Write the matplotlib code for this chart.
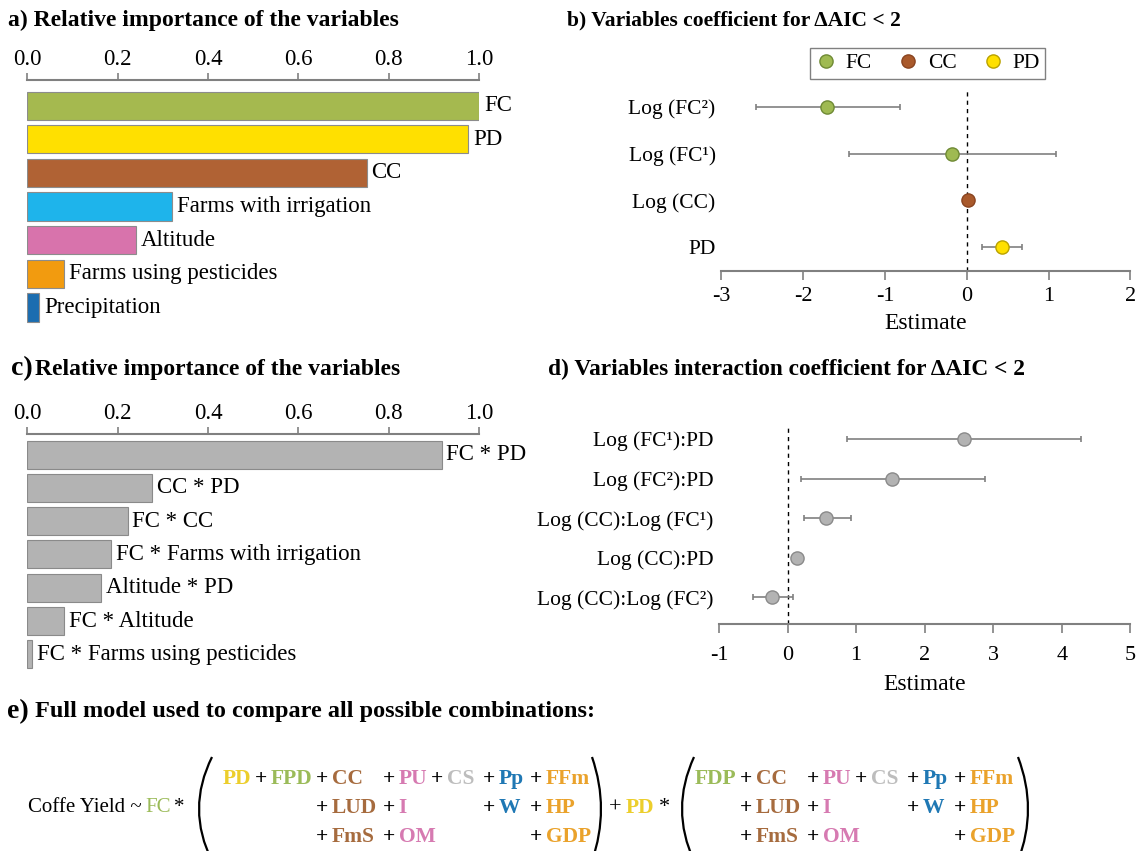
import matplotlib
matplotlib.use("Agg")
import matplotlib.pyplot as plt
from matplotlib.lines import Line2D
from matplotlib.path import Path
from matplotlib.patches import PathPatch
import numpy as np

# a) relative importance of single variables
vars_a = ["FC", "PD", "CC", "Farms with irrigation", "Altitude",
          "Farms using pesticides", "Precipitation"]
imp_a = [1.0, 0.976, 0.751, 0.321, 0.241, 0.081, 0.026]
colors_a = ["#a5b94f", "#ffe000", "#b06234", "#1eb4eb", "#d873ac",
            "#f29b0f", "#1b6db0"]

# b) coefficients (estimate, lower, upper)
terms_b = ["Log (FC²)", "Log (FC¹)", "Log (CC)", "PD"]
est_b = [-1.71, -0.18, 0.02, 0.43]
lo_b = [-2.58, -1.44, 0.02, 0.19]
hi_b = [-0.81, 1.09, 0.02, 0.67]
group_b = ["FC", "FC", "CC", "PD"]

# c) relative importance of interactions
vars_c = ["FC * PD", "CC * PD", "FC * CC", "FC * Farms with irrigation",
          "Altitude * PD", "FC * Altitude", "FC * Farms using pesticides"]
imp_c = [0.917, 0.277, 0.222, 0.185, 0.164, 0.081, 0.010]

# d) interaction coefficients
terms_d = ["Log (FC¹):PD", "Log (FC²):PD", "Log (CC):Log (FC¹)",
           "Log (CC):PD", "Log (CC):Log (FC²)"]
est_d = [2.57, 1.52, 0.56, 0.14, -0.22]
lo_d = [0.86, 0.20, 0.24, 0.14, -0.51]
hi_d = [4.28, 2.88, 0.92, 0.14, 0.08]

# e) full model terms, three rows x five columns inside each bracket
model_rows = [["CC", "PU", "CS", "Pp", "FFm"],
              ["LUD", "I", None, "W", "HP"],
              ["FmS", "OM", None, None, "GDP"]]
prefix_1 = ["PD", "FPD"]
prefix_2 = ["FDP"]

marker_face = {"FC": "#9fba52", "CC": "#a9592b", "PD": "#ffe000"}
marker_edge = {"FC": "#6f8a35", "CC": "#8a4420", "PD": "#b9a200"}
term_colour = {"PD": "#ecce2c", "FPD": "#9bbb59", "FDP": "#9bbb59", "FC": "#9bbb59",
               "CC": "#a66b3e", "LUD": "#a66b3e", "FmS": "#a66b3e",
               "PU": "#d67ab1", "I": "#d67ab1", "OM": "#d67ab1",
               "CS": "#bdbdbd", "Pp": "#1f78b4", "W": "#1f78b4",
               "FFm": "#eaa22b", "HP": "#eaa22b", "GDP": "#eaa22b"}

plt.rcParams["font.family"] = ["Liberation Serif", "DejaVu Serif"]
plt.rcParams["font.size"] = 15
plt.rcParams["axes.unicode_minus"] = False

W, H = 1142, 851
GREY = "#808080"
fig = plt.figure(figsize=(W / 100, H / 100), dpi=100)


def box(l, t, r, b):
    return [l / W, 1 - b / H, (r - l) / W, (b - t) / H]


def ftext(x, y, s, **kw):
    kw.setdefault("va", "center")
    return fig.text(x / W, 1 - y / H, s, **kw)


def after(prev, s, gap=4, **kw):
    # place text just right of a previous text artist
    return plt.annotate(s, xy=(1, 0.5), xycoords=prev, xytext=(gap, 0),
                        textcoords="offset points", va="center", ha="left",
                        annotation_clip=False, **kw)


def before(prev, s, gap=4, **kw):
    return plt.annotate(s, xy=(0, 0.5), xycoords=prev, xytext=(-gap, 0),
                        textcoords="offset points", va="center", ha="right",
                        annotation_clip=False, **kw)


def importance_panel(rect, names, values, colors, edge, ylim):
    ax = fig.add_axes(rect)
    ypos = np.arange(len(values))
    ax.barh(ypos, values, height=0.84, color=colors, edgecolor=edge, linewidth=0.8)
    for y, v, n in zip(ypos, values, names):
        ax.annotate(n, (v, y), xytext=(3.5, 0), textcoords="offset points",
                    va="center", ha="left", fontsize=16.5)
    ax.set_xlim(0, 1)
    ax.set_ylim(*ylim)
    ax.xaxis.tick_top()
    ax.set_xticks(np.arange(0, 1.01, 0.2))
    ax.set_xticklabels(["%.1f" % t for t in np.arange(0, 1.01, 0.2)])
    ax.set_yticks([])
    for s in ["bottom", "left", "right"]:
        ax.spines[s].set_visible(False)
    ax.spines["top"].set_color(GREY)
    ax.spines["top"].set_linewidth(1.5)
    ax.tick_params(axis="x", length=5, width=1.2, color=GREY, pad=2, labelsize=16.5)
    ax.patch.set_alpha(0)
    return ax


def coef_panel(rect, labels, est, lo, hi, faces, edges, xlim, ylim, pad, labelpad):
    ax = fig.add_axes(rect)
    ax.axvline(0, color="black", lw=1, ls=(0, (3, 3)), zorder=1)
    for i in range(len(est)):
        ax.errorbar(est[i], i, xerr=[[est[i] - lo[i]], [hi[i] - est[i]]], fmt="none",
                    ecolor=GREY, elinewidth=1.2, capsize=2.5, capthick=1.2, zorder=2)
        ax.plot(est[i], i, "o", ms=9.5, mfc=faces[i], mec=edges[i], mew=1, zorder=3)
    ax.set_xlim(*xlim)
    ax.set_ylim(*ylim)
    ax.set_xticks(np.arange(xlim[0], xlim[1] + 1))
    ax.set_yticks(range(len(labels)))
    ax.set_yticklabels(labels)
    ax.tick_params(axis="y", length=0, pad=4, labelsize=15.5)
    ax.tick_params(axis="x", length=6.5, width=1.2, color=GREY, pad=pad, labelsize=16)
    for s in ["top", "left", "right"]:
        ax.spines[s].set_visible(False)
    ax.spines["bottom"].set_color(GREY)
    ax.spines["bottom"].set_linewidth(1.5)
    ax.set_xlabel("Estimate", fontsize=17, labelpad=labelpad)
    ax.patch.set_alpha(0)
    return ax


# panel a
importance_panel(box(27.3, 80, 479, 325), vars_a, imp_a, colors_a, "#8c8c8c",
                 (6.52, -0.763))
ftext(8, 20, "a) Relative importance of the variables", fontweight="bold", fontsize=17)

# panel b
coef_panel(box(721.3, 88, 1130.3, 270.7), terms_b, est_b, lo_b, hi_b,
           [marker_face[g] for g in group_b], [marker_edge[g] for g in group_b],
           (-3, 2), (3.507, -0.407), pad=5, labelpad=5)
ftext(567, 20, "b) Variables coefficient for ΔAIC < 2", fontweight="bold", fontsize=15.5)
handles = [Line2D([], [], ls="none", marker="o", ms=9.5, mfc=marker_face[k],
                  mec=marker_edge[k]) for k in ["FC", "CC", "PD"]]
fig.legend(handles, ["FC", "CC", "PD"], ncol=3, loc="upper left",
           bbox_to_anchor=(810 / W, 1 - 48 / H), borderaxespad=0, fancybox=False,
           edgecolor=GREY, framealpha=1, handlelength=1.0, handletextpad=0.4,
           columnspacing=1.2, borderpad=0.25, fontsize=15.5)

# panel c
importance_panel(box(27.3, 434, 479, 675), vars_c, imp_c, ["#b3b3b3"] * 7, "#8a8a8a",
                 (6.62, -0.616))
ftext(11, 369, "c)", fontweight="bold", fontsize=20)
ftext(35, 369, "Relative importance of the variables", fontweight="bold", fontsize=17)

# panel d
coef_panel(box(719, 425, 1130.3, 624), terms_d, est_d, lo_d, hi_d,
           ["#b3b3b3"] * 5, ["#8a8a8a"] * 5, (-1, 5), (4.674, -0.354),
           pad=9, labelpad=7)
ftext(548, 369, "d) Variables interaction coefficient for ΔAIC < 2",
      fontweight="bold", fontsize=16.8)

# panel e: model formula
ftext(7, 712, "e)", fontweight="bold", fontsize=20)
ftext(35, 712, "Full model used to compare all possible combinations:",
      fontweight="bold", fontsize=17.5)

row_y = [779, 808, 837]
col_dx = [0, 67, 115, 167, 214]
FS = 15.5


def paren(x_end, x_mid, top=757, bottom=861):
    ctrl = 2 * x_mid - x_end
    verts = [(x_end / W, 1 - top / H), (ctrl / W, 1 - (top + bottom) / 2 / H),
             (x_end / W, 1 - bottom / H)]
    path = Path(verts, [Path.MOVETO, Path.CURVE3, Path.CURVE3])
    fig.add_artist(PathPatch(path, fill=False, lw=1.6, color="black",
                             transform=fig.transFigure))


def draw_group(col_a, prefix):
    # prefix terms run right-to-left, ending just before the first column
    anchor = ftext(col_a - 4, row_y[0], prefix[-1], ha="right",
                   color=term_colour[prefix[-1]], fontweight="bold", fontsize=FS)
    for term in prefix[-2::-1]:
        plus = before(anchor, "+", gap=2.5, fontweight="bold", fontsize=FS)
        anchor = before(plus, term, gap=2.5, color=term_colour[term],
                        fontweight="bold", fontsize=FS)
    for r, row in enumerate(model_rows):
        for c, term in enumerate(row):
            if term is None:
                continue
            plus = ftext(col_a + col_dx[c], row_y[r], "+", fontweight="bold", fontsize=FS)
            after(plus, term, gap=2.5, color=term_colour[term], fontweight="bold",
                  fontsize=FS)


lhs = ftext(28, 808, "Coffe Yield ~", fontsize=15)
fc = after(lhs, "FC", color=term_colour["FC"], fontsize=15, gap=3)
after(fc, "*", fontsize=15, gap=2)
paren(212, 199)
draw_group(316, prefix_1)
paren(592, 601)
plus = ftext(609, 808, "+", fontsize=16)
pd_t = after(plus, "PD", color=term_colour["PD"], fontweight="bold", fontsize=FS, gap=3)
after(pd_t, "*", fontsize=16, gap=3)
paren(694, 682)
draw_group(740, prefix_2)
paren(1018, 1028)

fig.savefig("out.png", dpi=100)
